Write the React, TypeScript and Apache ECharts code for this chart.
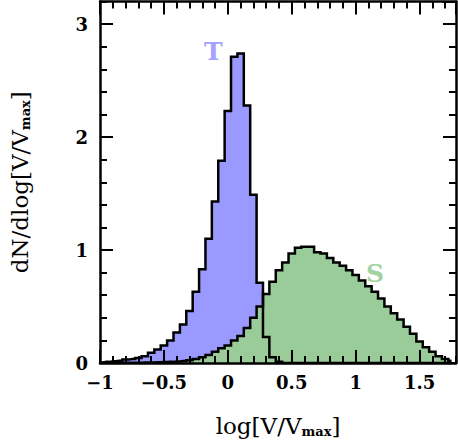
import React, { useEffect, useRef } from "react";
import * as echarts from "echarts";

// Bin centres of log[V/Vmax] (bin width 0.05)
const binCenters: number[] = [
  -1.0, -0.95, -0.9, -0.85, -0.8, -0.75, -0.7, -0.65, -0.6, -0.55,
  -0.5, -0.45, -0.4, -0.35, -0.3, -0.25, -0.2, -0.15, -0.1, -0.05,
  0.0, 0.05, 0.1, 0.15, 0.2, 0.25, 0.3, 0.35, 0.4, 0.45,
  0.5, 0.55, 0.6, 0.65, 0.7, 0.75, 0.8, 0.85, 0.9, 0.95,
  1.0, 1.05, 1.1, 1.15, 1.2, 1.25, 1.3, 1.35, 1.4, 1.45,
  1.5, 1.55, 1.6, 1.65, 1.7, 1.75,
];

// "T" histogram (blue)
const tValues: number[] = [
  0.005, 0.01, 0.015, 0.02, 0.03, 0.035, 0.045, 0.06, 0.09, 0.12,
  0.155, 0.2, 0.27, 0.34, 0.46, 0.63, 0.83, 1.1, 1.43, 1.79,
  2.23, 2.71, 2.74, 2.28, 1.49, 0.71, 0.23, 0.05, 0.01, 0,
  0, 0, 0, 0, 0, 0, 0, 0, 0, 0,
  0, 0, 0, 0, 0, 0, 0, 0, 0, 0,
  0, 0, 0, 0, 0, 0,
];

// "S" histogram (green)
const sValues: number[] = [
  0, 0, 0, 0, 0.002, 0.002, 0.003, 0.004, 0.005, 0.006,
  0.008, 0.01, 0.013, 0.018, 0.025, 0.035, 0.05, 0.07, 0.1, 0.13,
  0.155, 0.2, 0.24, 0.31, 0.4, 0.5, 0.61, 0.72, 0.82, 0.89,
  0.97, 1.02, 1.03, 1.03, 0.98, 0.97, 0.93, 0.89, 0.86, 0.82,
  0.78, 0.73, 0.68, 0.63, 0.57, 0.5, 0.44, 0.385, 0.32, 0.26,
  0.19, 0.14, 0.1, 0.06, 0.035, 0.02,
];

const X_MIN = -1;
const X_MAX = 1.785;
const Y_MIN = 0;
const Y_MAX = 3.2;

const BLUE = "#9999ff";
const GREEN = "#99cc99";
const SERIF = "'DejaVu Serif', serif";

export default function App() {
  const ref = useRef<HTMLDivElement>(null);

  useEffect(() => {
    if (!ref.current) return;
    const chart = echarts.init(ref.current, undefined, { renderer: "svg" });

    const tData = binCenters.map((x, i) => [x, tValues[i]]);
    const sData = binCenters.map((x, i) => [x, sValues[i]]);

    const fmt = (v: number) => {
      const r = Math.round(v * 100) / 100;
      if (Math.abs(r * 2 - Math.round(r * 2)) > 1e-6) return "";
      return r < 0 ? "\u2212" + String(-r) : String(r);
    };

    const lineW = 2.5;
    const baseX = {
      type: "value",
      min: X_MIN,
      max: X_MAX,
      z: 10,
      splitLine: { show: false },
    };
    const baseY = {
      type: "value",
      min: Y_MIN,
      max: Y_MAX,
      z: 10,
      splitLine: { show: false },
    };
    const axisLine = { show: true, onZero: false, lineStyle: { color: "#000", width: lineW } };
    const noLine = { show: false, onZero: false };
    const majorTick = { show: true, inside: true, length: 13, lineStyle: { color: "#000", width: 2 } };
    const minorTick = { show: true, inside: true, length: 7, lineStyle: { color: "#000", width: 2 } };

    const nameRich = {
      n: { fontFamily: SERIF, fontSize: 23, color: "#000" },
      s: { fontFamily: SERIF, fontSize: 13, fontWeight: "bold", color: "#000", padding: [12, 0, 0, 0] },
    };

    const option: any = {
      animation: false,
      backgroundColor: "#fff",
      grid: { left: 98, top: 1.5, width: 358, height: 371.5, containLabel: false },
      xAxis: [
        {
          ...baseX,
          position: "bottom",
          interval: 0.5,
          axisLine,
          axisTick: majorTick,
          axisLabel: {
            show: true,
            margin: 10,
            formatter: fmt,
            showMaxLabel: false,
            fontFamily: SERIF,
            fontWeight: "bold",
            fontSize: 18,
            color: "#000",
          },
          name: "{n|log[V/V}{s|max}{n|]}",
          nameLocation: "middle",
          nameGap: 50,
          nameTextStyle: { rich: nameRich },
        },
        { ...baseX, position: "bottom", interval: 0.1, axisLine: noLine, axisTick: minorTick, axisLabel: { show: false } },
        { ...baseX, position: "top", interval: 0.5, axisLine, axisTick: majorTick, axisLabel: { show: false } },
        { ...baseX, position: "top", interval: 0.1, axisLine: noLine, axisTick: minorTick, axisLabel: { show: false } },
      ],
      yAxis: [
        {
          ...baseY,
          position: "left",
          interval: 1,
          axisLine,
          axisTick: majorTick,
          axisLabel: {
            show: true,
            margin: 12,
            showMaxLabel: false,
            formatter: (v: number) => (Math.abs(v - Math.round(v)) < 1e-6 ? String(Math.round(v)) : ""),
            fontFamily: SERIF,
            fontWeight: "bold",
            fontSize: 18,
            color: "#000",
          },
          name: "{n|dN/dlog[V/V}{s|max}{n|]}",
          nameLocation: "middle",
          nameRotate: 90,
          nameGap: 68,
          nameTextStyle: { rich: nameRich },
        },
        { ...baseY, position: "left", interval: 0.2, axisLine: noLine, axisTick: minorTick, axisLabel: { show: false } },
        { ...baseY, position: "right", interval: 1, axisLine, axisTick: majorTick, axisLabel: { show: false } },
        { ...baseY, position: "right", interval: 0.2, axisLine: noLine, axisTick: minorTick, axisLabel: { show: false } },
      ],
      series: [
        {
          name: "T fill",
          type: "line",
          step: "middle",
          data: tData,
          symbol: "none",
          lineStyle: { width: 0, opacity: 0 },
          areaStyle: { color: BLUE, opacity: 1 },
          z: 1,
        },
        {
          name: "S fill",
          type: "line",
          step: "middle",
          data: sData,
          symbol: "none",
          lineStyle: { width: 0, opacity: 0 },
          areaStyle: { color: GREEN, opacity: 1 },
          z: 2,
        },
        {
          name: "T",
          type: "line",
          step: "middle",
          data: tData,
          symbol: "none",
          lineStyle: { width: lineW, color: "#000", join: "miter" },
          z: 3,
        },
        {
          name: "S",
          type: "line",
          step: "middle",
          data: sData,
          symbol: "none",
          lineStyle: { width: lineW, color: "#000", join: "miter" },
          z: 3,
        },
      ],
      graphic: [
        {
          type: "text",
          left: 204,
          top: 39,
          z: 20,
          style: { text: "T", font: "bold 25px 'DejaVu Serif', serif", fill: "#a3a3ff" },
        },
        {
          type: "text",
          left: 366,
          top: 261,
          z: 20,
          style: { text: "S", font: "bold 25px 'DejaVu Serif', serif", fill: "#a3d3a3" },
        },
      ],
    };

    chart.setOption(option);
    return () => chart.dispose();
  }, []);

  return (
    <div
      ref={ref}
      style={{ position: "absolute", left: 0, top: 0, width: 458, height: 443, background: "#fff" }}
    />
  );
}
